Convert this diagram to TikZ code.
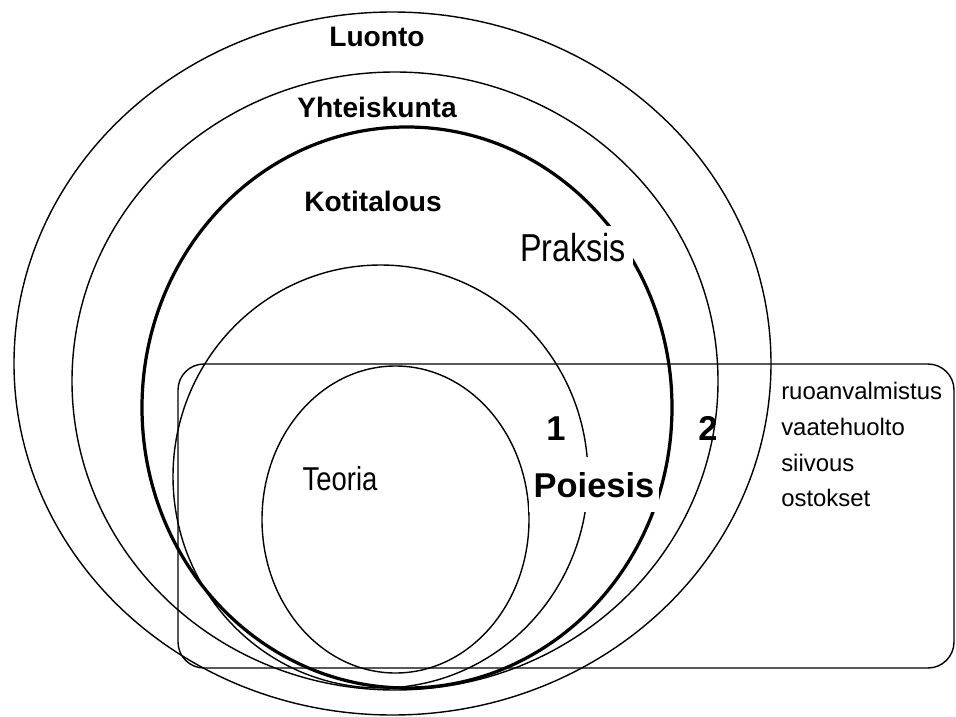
\documentclass[tikz,border=0pt]{standalone}
\usepackage{fontspec}
\usepackage{tikz}
\usetikzlibrary{positioning}
\setmainfont{Liberation Sans}
\newfontfamily\narrowsans[FakeStretch=0.83]{Liberation Sans}

\begin{document}
\begin{tikzpicture}[
    x=0.025cm, y=-0.025cm,
    ring/.style={line width=1pt},
    homering/.style={line width=2.3pt},
    levelname/.style={
        anchor=base,
        font=\fontsize{20}{24}\selectfont\bfseries
    },
    areaname/.style={
        anchor=base,
        font=\narrowsans\fontsize{27.7}{32}\selectfont
    },
    bigname/.style={
        anchor=base,
        font=\fontsize{24.5}{29}\selectfont\bfseries
    },
    task/.style={
        anchor=base west,
        inner sep=0pt,
        font=\fontsize{17}{20}\selectfont
    }
]
    \useasboundingbox (0, 0) rectangle (956, 717);

    % Nested circles
    \draw[ring] (392.5, 363.5) ellipse [x radius=378.5, y radius=351.5];
    \draw[ring] (395, 381) ellipse [x radius=323, y radius=309];
    \draw[homering] (407, 407.5) ellipse [x radius=265, y radius=280.5];
    \draw[ring] (380.5, 476.5) ellipse [x radius=207.5, y radius=211.5];
    \draw[ring] (395.5, 519.5) ellipse [x radius=133.5, y radius=153.5];

    % Work box
    \draw[ring, rounded corners=0.65cm] (178, 364) rectangle (954, 668);

    % Level labels
    \node[levelname] (luonto) at (377, 46) {Luonto};
    \node[levelname] (yhteiskunta) at (377, 117) {Yhteiskunta};
    \node[levelname] (kotitalous) at (373, 211) {Kotitalous};

    \node[areaname, fill=white, inner sep=5pt] (praksis) at (573, 261) {Praksis};
    \node[areaname, font=\narrowsans\fontsize{23.5}{28}\selectfont] (teoria) at (340, 490) {Teoria};
    \node[bigname, fill=white, inner xsep=3pt, inner ysep=10.5pt] (poiesis) at (594, 497) {Poiesis};

    \node[bigname] (one) at (556, 440) {1};
    \node[bigname] (two) at (708, 440) {2};

    % Task list
    \node[task] (ruoka) at (781, 399) {ruoanvalmistus};
    \node[task] (vaate) at (781, 435) {vaatehuolto};
    \node[task] (siivous) at (781, 471) {siivous};
    \node[task] (ostokset) at (781, 506) {ostokset};
\end{tikzpicture}
\end{document}
